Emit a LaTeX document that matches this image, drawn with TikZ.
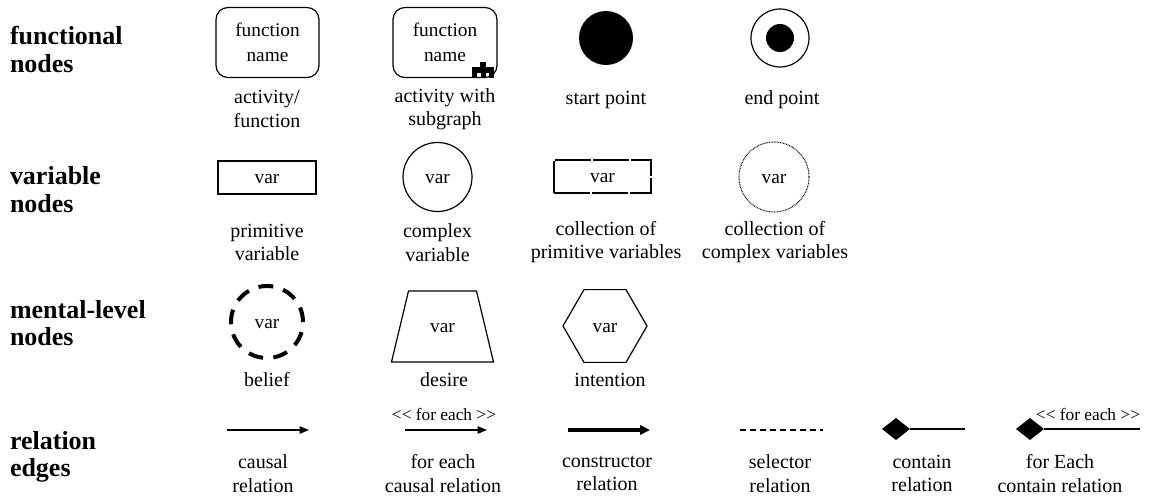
\documentclass[tikz,border=0pt]{standalone}
\usepackage{fontspec}
\setmainfont{Liberation Serif}
\newfontfamily\rawserif{Liberation Serif}
\usetikzlibrary{shapes.geometric,arrows.meta}

\begin{document}
\begin{tikzpicture}[x=0.75pt,y=-0.75pt,
  every node/.style={inner sep=0pt, outer sep=0pt},
  head/.style={font=\bfseries\fontsize{19.5}{20.5}\selectfont, align=left, anchor=west},
  lbl/.style={font=\fontsize{15}{17.5}\selectfont, align=center},
  intext/.style={font=\fontsize{14.5}{18.5}\selectfont},
  vartext/.style={intext, text height=9.5pt, text depth=0pt},
  shapeline/.style={draw, line width=0.9pt},
  actbox/.style={shapeline, rounded corners=9pt, minimum height=52.5pt, intext, align=center},
  varbox/.style={shapeline, minimum width=73.5pt, minimum height=24.75pt, vartext},
  varcirc/.style={shapeline, circle, vartext},
  foreach/.style={font=\rawserif\fontsize{13}{15}\selectfont},
  relline/.style={line width=1pt},
  causal/.style={relline, -{Triangle[length=7pt,width=5.5pt]}},
  constructor/.style={line width=2.3pt, -{Triangle[length=7.5pt,width=7pt]}},
  selector/.style={line width=0.9pt, dash pattern=on 4.5pt off 3pt},
  containhead/.style={diamond, fill=black, minimum width=21pt, minimum height=16.5pt}
]
\useasboundingbox (0,0) rectangle (1157,497);

% row headings
\node[head] (hfun) at (10,49.5)  {functional\\nodes};
\node[head] (hvar) at (10,189.5) {variable\\nodes};
\node[head] (hmen) at (10,323)   {mental-level\\nodes};
\node[head] (hrel) at (10,457) {relation\\edges};

% functional nodes
\node[actbox, minimum width=77.25pt] (act) at (267.5,42.5) {function\\name};
\node[actbox, minimum width=78pt] (sub) at (445,42.5) {function\\name};
\begin{scope}[shift={(sub.south east)}]
  % subgraph marker sitting on the lower edge of the activity box
  \fill (-17,-16) rectangle (-11,-10);
  \fill (-25,-10.5) rectangle (-3,-5);
  \fill (-25,-5.5) rectangle (-20,0);
  \fill (-16.5,-5.5) rectangle (-11.5,0);
  \fill (-8,-5.5) rectangle (-3,0);
\end{scope}
\node[circle, fill=black, minimum size=40.5pt] (start) at (606,38) {};
\node[circle, shapeline, minimum size=43.5pt] (endo) at (780,38) {};
\node[circle, fill=black, minimum size=21pt] (endi) at (endo.center) {};

\node[lbl] (lact) at (267,109) {activity/\\function};
\node[lbl] (lsub) at (445,109) {activity with\\subgraph};
\node[lbl] (lstart) at (606,100) {start point};
\node[lbl] (lend) at (782,100) {end point};

% variable nodes
\node[varbox] (prim) at (267,177.5) {var};
\node[varcirc, minimum size=51.75pt] (cplx) at (437.5,177) {var};
\node[varbox, minimum width=72.75pt, dash pattern=on 27pt off 1.5pt] (coll) at (602.5,176.5) {var};
\node[varcirc, minimum size=52.5pt, line width=0.8pt, dash pattern=on 0.6pt off 0.6pt] (ccoll) at (774,177) {var};

\node[lbl] (lprim) at (267,242.5) {primitive\\variable};
\node[lbl] (lcplx) at (437.5,242.5) {complex\\variable};
\node[lbl] (lcoll) at (606,242) {collection of\\primitive variables};
\node[lbl] (lccoll) at (775,242) {collection of\\complex variables};

% mental-level nodes
\node[circle, draw, line width=3pt, dash pattern=on 11.1pt off 7.75pt, minimum size=54pt, vartext] (belief) at (267,322) {var};
\node[minimum width=76.5pt, minimum height=53.25pt, vartext] (desire) at (442.5,326.5) {var};
\draw[shapeline] (desire.south west) -- ([xshift=12.75pt]desire.north west)
  -- ([xshift=-12.75pt]desire.north east) -- (desire.south east) -- cycle;
\node[regular polygon, regular polygon sides=6, shapeline, minimum size=63pt, vartext] (intent) at (605,326) {var};

\node[lbl] (lbelief) at (267,380) {belief};
\node[lbl] (ldesire) at (444,380) {desire};
\node[lbl] (lintent) at (610,380) {intention};

% relation edges
\coordinate (ca) at (227,430);
\coordinate (cb) at (309,430);
\draw[causal] (ca) -- (cb);

\coordinate (fa) at (405,430);
\coordinate (fb) at (487,430);
\draw[causal] (fa) -- (fb);
\node[foreach] (ftag) at (444,414) {<< for each >>};

\coordinate (ka) at (568,430);
\coordinate (kb) at (650,430);
\draw[constructor] (ka) -- (kb);

\coordinate (sa) at (740,430);
\coordinate (sb) at (823,430);
\draw[selector] (sa) -- (sb);

\node[containhead] (d1) at (896,429) {};
\coordinate (d1e) at (965,429);
\draw[relline] (d1.east) -- (d1e);

\node[containhead] (d2) at (1030,429) {};
\coordinate (d2e) at (1140,429);
\draw[relline] (d2.east) -- (d2e);
\node[foreach] (ctag) at (1088,414) {<< for each >>};

\node[lbl] (lcausal) at (263,473.5) {causal\\relation};
\node[lbl] (lfcausal) at (443,473.5) {for each\\causal relation};
\node[lbl] (lcons) at (607,473.5) {constructor\\relation};
\node[lbl] (lsel) at (780,473.5) {selector\\relation};
\node[lbl] (lcont) at (922,473.5) {contain\\relation};
\node[lbl] (lfcont) at (1060,473.5) {for Each\\contain relation};
\end{tikzpicture}
\end{document}
